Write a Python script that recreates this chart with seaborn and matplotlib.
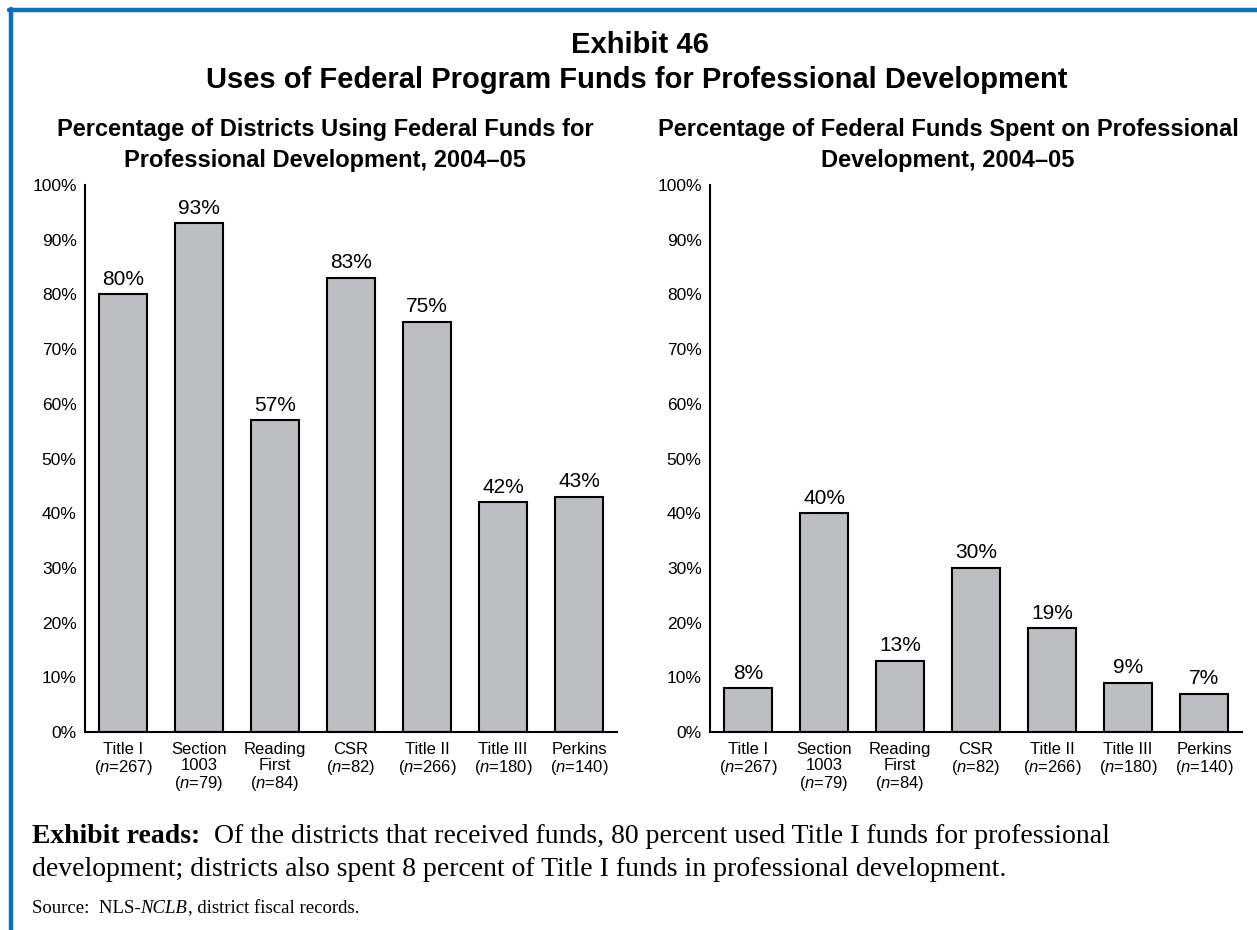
"""Exhibit 46: uses of federal program funds for professional development."""

import matplotlib.pyplot as plt
import pandas as pd
import seaborn as sns
from matplotlib.lines import Line2D

# --- data --------------------------------------------------------------
programs = ["Title I", "Section 1003", "Reading First", "CSR",
            "Title II", "Title III", "Perkins"]
tick_labels = [
    "Title I\n($n$=267)",
    "Section\n1003\n($n$=79)",
    "Reading\nFirst\n($n$=84)",
    "CSR\n($n$=82)",
    "Title II\n($n$=266)",
    "Title III\n($n$=180)",
    "Perkins\n($n$=140)",
]
pct_districts = [80, 93, 57, 83, 75, 42, 43]
pct_funds = [8, 40, 13, 30, 19, 9, 7]
y_ticks = list(range(0, 101, 10))

sns.set_style("white")
plt.rcParams["font.family"] = ["Liberation Sans", "DejaVu Sans"]
plt.rcParams["mathtext.fontset"] = "custom"
plt.rcParams["mathtext.rm"] = "Liberation Sans"
plt.rcParams["mathtext.it"] = "Liberation Sans:italic"
plt.rcParams["text.color"] = "black"
plt.rcParams["xtick.color"] = "black"
plt.rcParams["ytick.color"] = "black"

BAR = "#bdbec2"
BLUE = "#0a72ba"

fig = plt.figure(figsize=(12.57, 9.30), dpi=100)
ax_l = fig.add_axes([85 / 1257, 1 - 732 / 930, 532 / 1257, 547 / 930])
ax_r = fig.add_axes([710 / 1257, 1 - 732 / 930, 532 / 1257, 547 / 930])


def draw_panel(ax, values):
    df = pd.DataFrame({"program": programs, "value": values})
    sns.barplot(data=df, x="program", y="value", color=BAR,
                edgecolor="black", linewidth=1.5, width=0.63,
                saturation=1, ax=ax)
    for p, v in zip(ax.patches, values):
        ax.annotate(f"{v}%", (p.get_x() + p.get_width() / 2, p.get_height()),
                    xytext=(0, 4), textcoords="offset points",
                    ha="center", va="bottom", fontsize=15)
    ax.set_xlim(-0.5, 6.5)
    ax.set_ylim(0, 100)
    ax.set_yticks(y_ticks)
    ax.set_yticklabels([f"{t}%" for t in y_ticks], fontsize=12.5)
    ax.set_xticks(range(len(programs)))
    ax.set_xticklabels(tick_labels, fontsize=12, linespacing=1.1, va="top")
    ax.tick_params(axis="both", length=0)
    ax.tick_params(axis="y", pad=6)
    ax.tick_params(axis="x", pad=7)
    ax.set_xlabel("")
    ax.set_ylabel("")
    for side in ["top", "right"]:
        ax.spines[side].set_visible(False)
    for side in ["left", "bottom"]:
        ax.spines[side].set_color("black")
        ax.spines[side].set_linewidth(1.5)


draw_panel(ax_l, pct_districts)
draw_panel(ax_r, pct_funds)

# titles
fig.text(640 / 1257, 1 - 45 / 930, "Exhibit 46", ha="center", va="center",
         fontsize=21, fontweight="bold")
fig.text(637 / 1257, 1 - 80 / 930,
         "Uses of Federal Program Funds for Professional Development",
         ha="center", va="center", fontsize=21, fontweight="bold")
fig.text(325 / 1257, 1 - 145 / 930,
         "Percentage of Districts Using Federal Funds for\n"
         "Professional Development, 2004–05",
         ha="center", va="center", fontsize=17, fontweight="bold",
         linespacing=1.45)
fig.text(948 / 1257, 1 - 145 / 930,
         "Percentage of Federal Funds Spent on Professional\n"
         "Development, 2004–05",
         ha="center", va="center", fontsize=17, fontweight="bold",
         linespacing=1.45)

# footer notes
serif = ["Liberation Serif", "DejaVu Serif"]
t1 = fig.text(32 / 1257, 1 - 843 / 930, "Exhibit reads:", family=serif,
              fontsize=20, fontweight="bold", va="baseline")
ax_l.annotate("  Of the districts that received funds, 80 percent used Title I "
              "funds for professional", xy=(1, 0), xycoords=t1,
              family=serif, fontsize=20, va="bottom")
fig.text(32 / 1257, 1 - 876 / 930,
         "development; districts also spent 8 percent of Title I funds in "
         "professional development.", family=serif, fontsize=20,
         va="baseline")
s1 = fig.text(32 / 1257, 1 - 913 / 930, "Source:  NLS-", family=serif,
              fontsize=13.5, va="baseline")
s2 = ax_l.annotate("NCLB", xy=(1, 0), xycoords=s1, family=serif,
                   fontsize=13.5, style="italic", va="bottom")
ax_l.annotate(", district fiscal records.", xy=(1, 0), xycoords=s2,
              family=serif, fontsize=13.5, va="bottom")

# blue frame (top and left rules)
fig.add_artist(Line2D([9 / 1257, 1], [1 - 10 / 930, 1 - 10 / 930],
                      transform=fig.transFigure, color=BLUE, linewidth=3.2))
fig.add_artist(Line2D([11 / 1257, 11 / 1257], [0, 1 - 9 / 930],
                      transform=fig.transFigure, color=BLUE, linewidth=3.2))

fig.savefig("out.png", dpi=100)
